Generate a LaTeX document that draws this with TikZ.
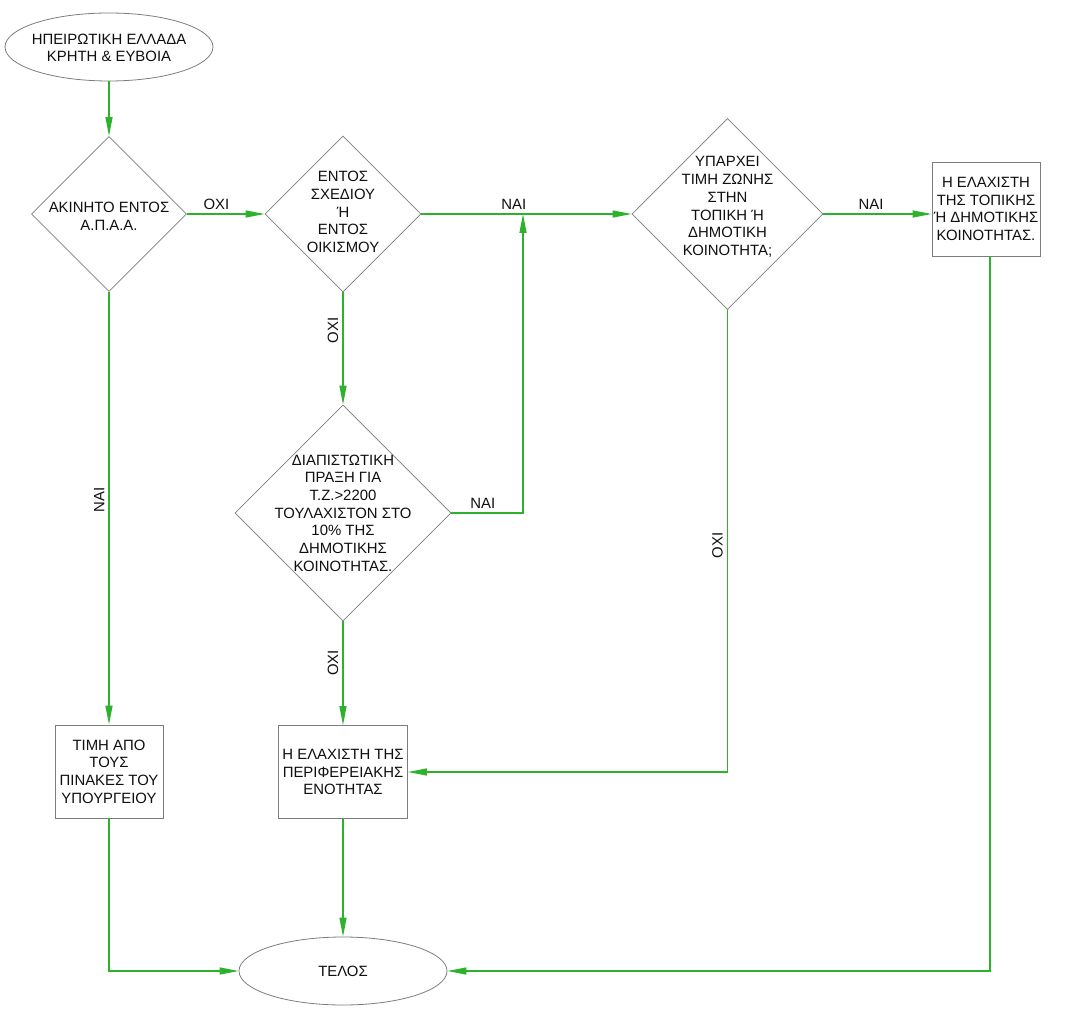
\documentclass[tikz,border=0pt]{standalone}
\usepackage{fontspec}
\setmainfont{Liberation Sans}
\usetikzlibrary{shapes.geometric,arrows.meta}
\definecolor{flowgreen}{RGB}{45,178,45}
\definecolor{shapegray}{RGB}{125,125,125}
\definecolor{txt}{RGB}{15,15,15}
\begin{document}
\begin{tikzpicture}[x=1pt,y=-1pt,
  every node/.style={font=\fontsize{14.9pt}{17.7pt}\selectfont, text=txt, align=center, inner sep=0pt},
  shp/.style={draw=shapegray, line width=0.8pt},
  dia/.style={shp, shape=diamond, minimum width=#1, minimum height=#1},
  oval/.style={shp, shape=ellipse, minimum width=208pt, minimum height=68pt},
  box/.style={shp, rectangle, minimum width=#1},
  flow/.style={draw=flowgreen, line width=1.3pt, -{Triangle[length=19pt,width=7pt,fill=flowgreen]}},
  lbl/.style={font=\fontsize{14.9pt}{17.7pt}\selectfont},
  vlbl/.style={lbl, rotate=90}
]
\useasboundingbox (0,0) rectangle (1076,1024);

% shapes
\node[oval] (start) at (109,47) {};
\node (starttxt) at (109,48) {ΗΠΕΙΡΩΤΙΚΗ ΕΛΛΑΔΑ\\ΚΡΗΤΗ \& ΕΥΒΟΙΑ};

\node[dia=155pt] (d1) at (109,214) {};
\node (d1txt) at (109,216) {ΑΚΙΝΗΤΟ ΕΝΤΟΣ\\Α.Π.Α.Α.};

\node[dia=156pt] (d2) at (343,214) {};
\node (d2txt) at (343,212) {ΕΝΤΟΣ\\ΣΧΕΔΙΟΥ\\Ή\\ΕΝΤΟΣ\\ΟΙΚΙΣΜΟΥ};

\node[dia=191pt] (d3) at (727.5,214) {};
\node (d3txt) at (727.5,207) {ΥΠΑΡΧΕΙ\\ΤΙΜΗ ΖΩΝΗΣ\\ΣΤΗΝ\\ΤΟΠΙΚΗ Ή\\ΔΗΜΟΤΙΚΗ\\ΚΟΙΝΟΤΗΤΑ;};

\node[dia=216pt] (d4) at (343,513) {};
\node (d4txt) at (343,513) {ΔΙΑΠΙΣΤΩΤΙΚΗ\\ΠΡΑΞΗ ΓΙΑ\\Τ.Ζ.>2200\\ΤΟΥΛΑΧΙΣΤΟΝ ΣΤΟ\\10\% ΤΗΣ\\ΔΗΜΟΤΙΚΗΣ\\ΚΟΙΝΟΤΗΤΑΣ.};

\node[box=108pt, minimum height=94pt] (r1) at (986,209) {Η ΕΛΑΧΙΣΤΗ\\ΤΗΣ ΤΟΠΙΚΗΣ\\Ή ΔΗΜΟΤΙΚΗΣ\\ΚΟΙΝΟΤΗΤΑΣ.};

\node[box=129pt, minimum height=93pt] (r2) at (343,772) {Η ΕΛΑΧΙΣΤΗ ΤΗΣ\\ΠΕΡΙΦΕΡΕΙΑΚΗΣ\\ΕΝΟΤΗΤΑΣ};

\node[box=108pt, minimum height=93pt] (r3) at (109,771.5) {ΤΙΜΗ ΑΠΟ\\ΤΟΥΣ\\ΠΙΝΑΚΕΣ ΤΟΥ\\ΥΠΟΥΡΓΕΙΟΥ};

\node[oval] (telos) at (343,971) {};
\node (telostxt) at (343,971) {ΤΕΛΟΣ};

\coordinate (join) at (523,214);

% connectors
\draw[flow] (start) -- (d1);
\draw[flow] (d1) -- (d2) node[lbl, pos=0.38, above=4pt] (l1) {ΟΧΙ};
\draw[flow] (d2) -- (d3) node[lbl, pos=0.44, above=4pt] (l2) {ΝΑΙ};
\draw[flow] (d3.east) -- (d3.east -| r1.west) node[lbl, pos=0.44, above=4pt] (l3) {ΝΑΙ};
\draw[flow] ([xshift=4pt]r1.south) |- (telos.east);
\draw[flow] (d2) -- (d4) node[vlbl, pos=0.34, above=4pt] (l4) {ΟΧΙ};
\draw[flow] (d4.east) -| (join) node[lbl, pos=0.22, above=4pt] (l5) {ΝΑΙ};
\draw[flow] (d4) -- (r2) node[vlbl, pos=0.4, above=4pt] (l6) {ΟΧΙ};
\draw[flow] (d3.south) |- (r2.east) node[vlbl, pos=0.255, above=4pt] (l7) {ΟΧΙ};
\draw[flow] (d1) -- (r3) node[vlbl, pos=0.48, above=4pt] (l8) {ΝΑΙ};
\draw[flow] (r3.south) |- (telos.west);
\draw[flow] (r2) -- (telos);
\end{tikzpicture}
\end{document}
